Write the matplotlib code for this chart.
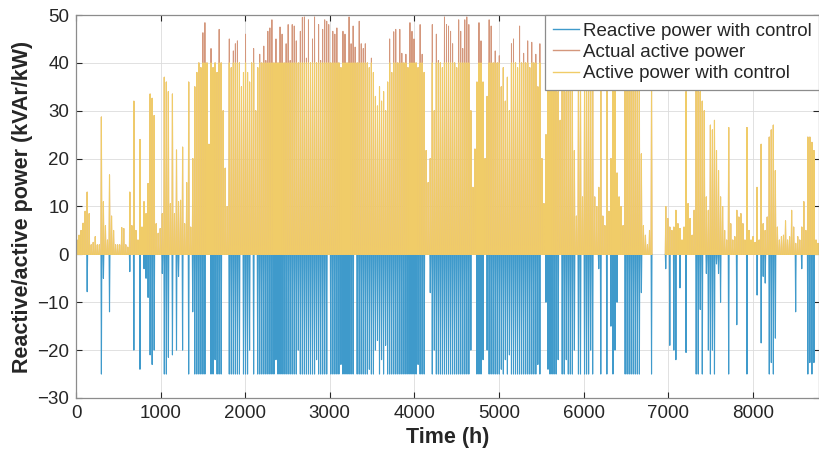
import numpy as np
import matplotlib
matplotlib.use('Agg')
import matplotlib.pyplot as plt

nan = np.nan

# daily peak of the actual active power (kW), one value per day
active_peak = [
    3, 4, 5, 6.5, 9, 13, 8.5, 2, 2.5, 3.7,
    2, 2, 28.7, 11, 6, 3, 16.6, 8, 5, 2,
    2, 2, 5.6, 5.4, 2, 1.5, 13, 6, 32, 5,
    3, 24, 5.7, 11, 8.5, 14.8, 33.5, 32.6, 29, 6.4,
    4.4, 5.4, 8.5, 37, 36, 34, 10.6, 33.5, 8.5, 21.8,
    11, 11.3, 22.4, 6.4, 15, 36, 5.7, 20, 35, 38,
    40, 39, 46.3, 48.4, 40, 23, 43, 39, 40, 38,
    47, 40, 30, 18, 10, 45, 39, 42.5, 44, 44.6,
    40, 35, 38, 46, 38, 36, 40, 43, 30, 39,
    41.8, 40, 43.5, 40.5, 46.6, 47.3, 49, 40, 45, 40,
    47.5, 46, 40, 44, 48, 40.5, 48, 47.7, 44.6, 40,
    46.6, 49.5, 49.6, 41, 49, 40, 45, 49.6, 40, 48,
    40.5, 47, 49, 48.7, 48, 40, 46.6, 46, 47.3, 40,
    39, 46.6, 46, 40, 49.6, 44, 47.7, 43.3, 40, 48.7,
    44, 43, 44, 40, 39, 41, 38, 33, 31, 35,
    32, 34, 30, 36, 45, 38, 46.5, 47, 40, 47,
    42, 40, 41.8, 39, 48.4, 46.6, 45, 40, 39, 48,
    41.8, 38, 21.7, 15, 20, 48, 30, 46, 40.5, 40,
    39, 49.6, 48, 47.7, 46.6, 44, 40, 39, 49, 46.6,
    43, 49, 49.6, 48, 30, 14, 22, 36, 48.4, 44.6,
    36, 20, 33, 49, 47.7, 40, 42.5, 40, 41.5, 35,
    39, 32, 37, 30, 44, 45, 40, 39, 47.7, 40,
    42, 40, 44.6, 39, 44.3, 40, 41.8, 35, 44, 20,
    10.6, 25, 35, 40, 45.7, 45.3, 45, 34, 28, 36,
    38, 34, 36, 39, 37, 21.7, 8, 37, 38, 12,
    36, 39, 37, 38, 36, 12, 10, 14, 38, 8,
    6, 36, 9, 20, 37, 38, 17, 12, 10, 6,
    38, 37, 39, 36, 38, 37, 39, 36, 21, 6,
    4, 2, 5, 37, nan, nan, nan, nan, nan, nan,
    10, 7.5, 5.7, 5, 5.7, 9.2, 6.4, 5.4, 3, 5.7,
    34, 10.6, 7.5, 4, 9.2, 37, 35, 34, 32, 30,
    12, 9.2, 27, 26, 28, 21.7, 17.5, 12, 10, 5,
    3, 26.5, 6.4, 3, 3.7, 9.2, 7.8, 8.5, 6.4, 3,
    26.5, 5, 3, 3.7, 2.5, 14, 3, 23, 6.4, 5,
    7.8, 24.5, 26, 27, 17.5, 5.7, 3, 3.7, 4, 7,
    3, 3.7, 9.2, 5.7, 2.3, 3.7, 3, 5.7, 11, 5,
    24.5, 24.5, 23.4, 21.7, 3, 2.3,
]

# daily extreme of the reactive power with control (kVAr)
reactive_peak = [
    0, 0, 0, 0, 0, -7.8, 0, 0, 0, 0,
    0, 0, -25, -5, 0, 0, -12, 0, 0, 0,
    0, 0, 0, 0, 0, 0, -3.6, 0, -20, 0,
    0, -24, 0, -3, -5, -9, -21, -23, -20, 0,
    0, 0, -4, -25, -25, -21.5, 0, -21, 0, -20,
    -4.6, 0, -20, 0, 0, -25, 0, -12, -25, -25,
    -25, -25, -25, -25, 0, 0, -25, -25, -22, -25,
    -25, -25, 0, 0, 0, -25, -25, -25, -25, -25,
    -25, 0, -25, -25, -25, -20, 0, -25, 0, -25,
    -25, -25, -25, -25, -25, -25, -25, -25, -22, -25,
    -25, -25, -25, -25, -25, -25, -25, -25, -25, -20,
    -25, -25, -25, -25, -25, -25, -25, -25, -22, -25,
    -25, -25, -25, -25, 0, -25, -25, -25, -25, -25,
    -23, -25, -25, -25, -25, -25, -25, 0, -25, -25,
    -25, -25, -25, -25, -24, -25, -25, -20, -18, -25,
    -22, -25, -19, -25, -25, -25, -25, -25, -25, -25,
    -25, -25, -25, -25, -25, -25, -25, -25, -23, -25,
    -25, -25, 0, 0, -8, -25, -20, -25, -25, -25,
    -25, -25, -25, -25, -25, -25, -25, -25, -25, -25,
    -25, -25, -25, -25, -20, 0, 0, -25, -25, -25,
    -22, 0, -20, -25, -25, -25, -25, -25, -25, -24,
    -25, -22, -25, -21, -25, -25, -25, -25, -25, -25,
    -25, -25, -25, -25, -25, -25, -25, -23, -25, 0,
    0, -10, -24, -25, -25, -25, -25, -22, 0, -25,
    -25, -22, -25, -25, -25, -20, 0, -25, -25, 0,
    -25, -25, -25, -20, -25, 0, 0, -3, -25, 0,
    0, -25, 0, -15, -25, -20, -10, 0, 0, 0,
    -25, -25, -25, -25, -25, -25, -25, -25, -8, 0,
    0, 0, 0, -25, nan, nan, nan, nan, nan, nan,
    -3, 0, -19, 0, -20, -22, 0, -7, 0, 0,
    -20.5, 0, 0, 0, 0, -25, -25, -11.5, -25, 0,
    -4, -20, -25, -20, -25, -2, -4, -10, 0, 0,
    0, -25, 0, 0, 0, -14.7, 0, 0, 0, 0,
    -25, 0, 0, 0, 0, -8.5, 0, -18.5, -4.6, -6,
    0, -25, -22.6, -25, -17.5, 0, 0, 0, 0, 0,
    0, 0, 0, 0, -12, 0, 0, -3, 0, 0,
    -25, -22.6, -25, -22.6, 0, 0,
]

p_limit = 40  # active power cap applied by the controller

# sunrise / noon / sunset hour used for each daily curve
day_hours = [7, 12, 17]


def daily_series(peaks):
    peaks = np.asarray(peaks, dtype=float)
    n = len(peaks)
    t = (np.arange(n)[:, None] * 24 + np.array(day_hours)[None, :]).ravel()
    zero = np.where(np.isnan(peaks), nan, 0.0)
    v = np.column_stack([zero, peaks, zero]).ravel()
    t = np.concatenate([[0], t, [n * 24]])
    v = np.concatenate([[0], v, [0]])
    return t, v


t, p_actual = daily_series(active_peak)
_, p_ctrl = daily_series(np.minimum(np.array(active_peak, dtype=float), p_limit))
_, q_ctrl = daily_series(reactive_peak)

plt.rcParams['font.family'] = ['Liberation Sans', 'DejaVu Sans']

fig = plt.figure(figsize=(8.2, 4.63), dpi=100)
ax = fig.add_axes([0.0927, 0.1404, 0.9061, 0.8272])

ax.plot(t, q_ctrl, color='#3f9acb', lw=0.8, label='Reactive power with control')
ax.plot(t, p_actual, color='#d4977c', lw=0.7, label='Actual active power')
ax.plot(t, p_ctrl, color='#f0cc68', lw=0.8, label='Active power with control')

ax.set_xlim(0, len(active_peak) * 24)
ax.set_ylim(-30, 50)
ax.set_xticks(np.arange(0, 9000, 1000))
ax.set_yticks(np.arange(-30, 51, 10))
ax.grid(True, color='#dcdcdc', lw=0.6)
ax.set_axisbelow(True)
ax.tick_params(direction='in', top=True, right=True, length=4, width=0.8,
               color='#262626', labelcolor='#262626', labelsize=13.5, pad=5)
for s in ax.spines.values():
    s.set_color('#8c8c8c')
    s.set_linewidth(0.9)

ax.set_xlabel('Time (h)', fontsize=15.5, fontweight='bold', labelpad=4, color='#262626')
ax.set_ylabel('Reactive/active power (kVAr/kW)', fontsize=15.5, fontweight='bold',
              labelpad=3, color='#262626')

leg = ax.legend(loc='upper right', borderaxespad=0, fontsize=13.5, handlelength=1.4,
                handletextpad=0.2, labelspacing=0.22, borderpad=0.4,
                fancybox=False, framealpha=1)
leg.get_frame().set_edgecolor('#8c8c8c')
leg.get_frame().set_linewidth(0.9)
for txt in leg.get_texts():
    txt.set_color('#262626')
for line in leg.get_lines():
    line.set_linewidth(1.0)

fig.savefig('out.png', dpi=100)
